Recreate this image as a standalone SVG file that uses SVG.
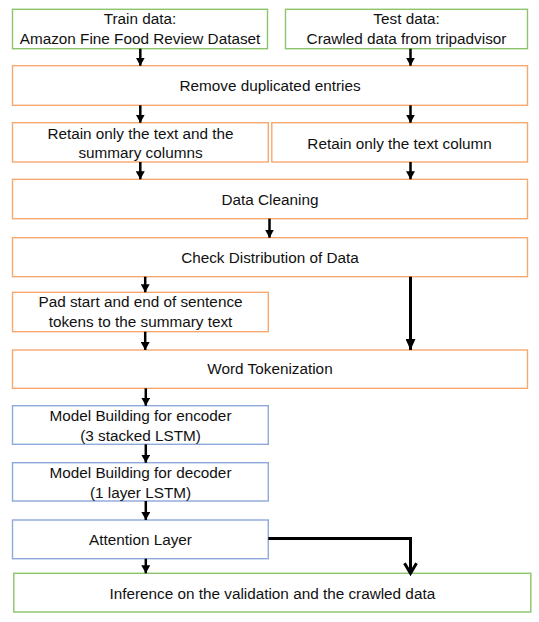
<svg xmlns="http://www.w3.org/2000/svg" width="539" height="622" viewBox="0 0 539 622">
<style>
.bx{fill:#fff;stroke-width:1.4}
.g{stroke:#8CC46A}
.o{stroke:#F5A870}
.b{stroke:#8EA9DB}
text{font-family:"Liberation Sans",Arial,sans-serif;font-size:15.3px;fill:#111;text-anchor:middle}
.a{stroke:#000;stroke-width:2.5;fill:none;marker-end:url(#ah)}
.a2{stroke:#000;stroke-width:3;fill:none;marker-end:url(#ah2)}
.e{stroke:#000;stroke-width:3;fill:none;marker-end:url(#ov)}
</style>
<defs>
<marker id="ah" markerUnits="userSpaceOnUse" markerWidth="8" markerHeight="9" viewBox="0 0 8 9" refX="8" refY="4.5" orient="auto"><path d="M0,0 L8,4.5 L0,9 z" fill="#000"/></marker>
<marker id="ah2" markerUnits="userSpaceOnUse" markerWidth="11" markerHeight="10" viewBox="0 0 11 10" refX="11" refY="5" orient="auto"><path d="M0,0 L11,5 L0,10 z" fill="#000"/></marker>
<marker id="ov" markerUnits="userSpaceOnUse" markerWidth="14" markerHeight="16" viewBox="0 0 14 16" refX="11" refY="8" orient="auto"><path d="M1,2 L11,8 L1,14" fill="none" stroke="#000" stroke-width="3"/></marker>
</defs>
<rect width="539" height="622" fill="#fff"/>
<g id="train"><rect class="bx g" x="12.5" y="9.3" width="255" height="39.4"/><text x="140" y="24">Train data:</text><text x="140" y="44">Amazon Fine Food Review Dataset</text></g>
<g id="test"><rect class="bx g" x="285.5" y="9.3" width="242" height="39.4"/><text x="406.5" y="24">Test data:</text><text x="406.5" y="44">Crawled data from tripadvisor</text></g>
<g id="remove"><rect class="bx o" x="12.5" y="65.7" width="515" height="39.6"/><text x="270" y="91">Remove duplicated entries</text></g>
<g id="retainL"><rect class="bx o" x="12.5" y="122.7" width="255.8" height="39.3"/><text x="140.5" y="138.5">Retain only the text and the</text><text x="140.5" y="158">summary columns</text></g>
<g id="retainR"><rect class="bx o" x="271.8" y="122.7" width="255.7" height="39.3"/><text x="399.6" y="148.5">Retain only the text column</text></g>
<g id="cleaning"><rect class="bx o" x="12.5" y="179.3" width="515" height="39.4"/><text x="270" y="204.5">Data Cleaning</text></g>
<g id="check"><rect class="bx o" x="12.5" y="237.7" width="515" height="39"/><text x="270" y="263">Check Distribution of Data</text></g>
<g id="pad"><rect class="bx o" x="12.5" y="292.3" width="255.8" height="39.4"/><text x="140.5" y="307">Pad start and end of sentence</text><text x="140.5" y="327">tokens to the summary text</text></g>
<g id="wordtok"><rect class="bx o" x="12.5" y="350" width="515" height="38.3"/><text x="270" y="374">Word Tokenization</text></g>
<g id="encoder"><rect class="bx b" x="12.5" y="405.7" width="255.8" height="38.6"/><text x="140.5" y="421">Model Building for encoder</text><text x="140.5" y="441">(3 stacked LSTM)</text></g>
<g id="decoder"><rect class="bx b" x="12.5" y="462.7" width="255.8" height="38.3"/><text x="140.5" y="477.5">Model Building for decoder</text><text x="140.5" y="497.5">(1 layer LSTM)</text></g>
<g id="attention"><rect class="bx b" x="12.5" y="520" width="255.8" height="38.7"/><text x="140.5" y="545">Attention Layer</text></g>
<g id="inference"><rect class="bx g" x="13.8" y="573.3" width="517" height="38.7"/><text x="272.3" y="599">Inference on the validation and the crawled data</text></g>
<g id="connectors">
<path class="a" d="M140.3,48.7 V65.7"/>
<path class="a" d="M410.5,48.7 V65.7"/>
<path class="a" d="M140.3,105.3 V122.7"/>
<path class="a" d="M410.5,105.3 V122.7"/>
<path class="a" d="M140.3,162 V179.3"/>
<path class="a" d="M410.5,162 V179.3"/>
<path class="a" d="M269.5,218.7 V237.7"/>
<path class="a" d="M145.2,276.7 V292.3"/>
<path class="a2" d="M410.5,276.7 V350"/>
<path class="a" d="M145.2,331.7 V350"/>
<path class="a" d="M145.8,388.3 V405.7"/>
<path class="a" d="M145.8,444.3 V462.7"/>
<path class="a" d="M145.8,501 V520"/>
<path class="a" d="M145.8,558.7 V573.3"/>
<path class="e" d="M268.3,538.5 H410.5 V573.3"/>
</g>
</svg>
